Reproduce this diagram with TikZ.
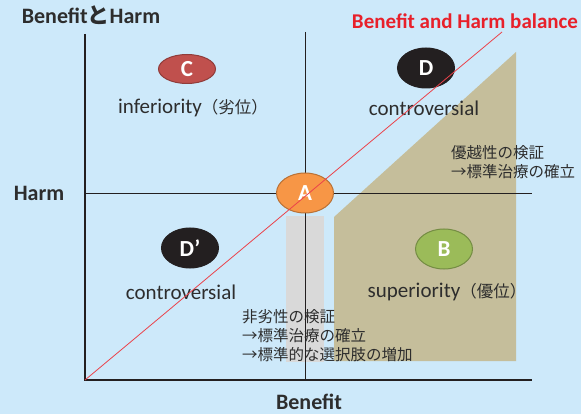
\documentclass[tikz,border=0pt]{standalone}
\usepackage{fontspec}
\setmainfont{Carlito}
\newfontfamily\jp{Noto Sans CJK JP}
\usetikzlibrary{shapes.geometric}

\definecolor{bgblue}{RGB}{205,233,250}
\definecolor{tan}{RGB}{197,190,155}
\definecolor{lightgrey}{RGB}{217,217,217}
\definecolor{axisdark}{RGB}{35,31,32}
\definecolor{textdark}{RGB}{45,45,45}
\definecolor{balred}{RGB}{232,32,42}
\definecolor{cred}{RGB}{192,80,77}
\definecolor{aorange}{RGB}{247,150,70}
\definecolor{bgreen}{RGB}{155,187,89}

\begin{document}
\begin{tikzpicture}[x=1pt, y=-1pt,
    zone/.style={ellipse, draw, line width=1pt, minimum width=57pt, minimum height=40pt,
      inner sep=0pt, text=white, font=\bfseries\fontsize{23}{23}\selectfont},
    zonetext/.style={text=textdark, font=\fontsize{21}{21}\selectfont},
    axistitle/.style={text=textdark, font=\bfseries\fontsize{22}{22}\selectfont},
    note/.style={anchor=west, align=left, inner sep=0pt, text=textdark,
      font=\jp\fontsize{15.5}{19}\selectfont}]
    \useasboundingbox (0,0) rectangle (581,414);
    \fill[bgblue] (0,0) rectangle (581,414);

    % shaded regions
    \fill[tan] (334,217) -- (516,52) -- (516,361) -- (334,361) -- cycle;
    \fill[lightgrey] (286,216) rectangle (324,362);

    % axes and cross lines
    \coordinate (origin) at (85,380);
    \coordinate (ytop) at (85,34);
    \coordinate (xend) at (532,380);
    \coordinate (vtop) at (305,32);
    \coordinate (vbot) at (305,380);
    \coordinate (hleft) at (85,194);
    \coordinate (hright) at (532,194);
    \coordinate (balend) at (502,32);

    \draw[axisdark, line width=1pt] (vtop) -- (vbot);
    \draw[axisdark, line width=1pt] (hleft) -- (hright);
    \draw[axisdark, line width=2.6pt] (ytop) -- (origin) -- (xend);

    % titles
    \node[axistitle] (title) at (91,15) {Benefit{\jp と}Harm};
    \node[axistitle, text=balred, font=\bfseries\fontsize{21}{21}\selectfont] (balance) at (465,21) {Benefit and Harm balance};
    \node[axistitle] (harm) at (39,193) {Harm};
    \node[axistitle] (benefit) at (309,402) {Benefit};

    % quadrants
    \node[zone, fill=cred, draw=cred!75!black, minimum height=29pt] (c) at (187,69) {C};
    \node[zone, fill=axisdark, draw=axisdark] (d) at (426,68) {D};
    \node[zone, fill=axisdark, draw=axisdark] (dd) at (190,248) {D’};
    \node[zone, fill=aorange, draw=aorange!75!black] (a) at (305,193) {A};
    \node[zone, fill=bgreen, draw=bgreen!75!black] (b) at (444,249) {B};

    \node[zonetext] (inferior) at (193,108) {inferiority{\jp\fontsize{16.5}{16.5}\selectfont（劣位）}};
    \node[zonetext] (contra) at (424,108) {controversial};
    \node[zonetext] (contrb) at (181,292) {controversial};
    \node[zonetext] (superior) at (447,292) {superiority{\jp\fontsize{16.5}{16.5}\selectfont（優位）}};

    \node[note] (supnote) at (451,162) {優越性の検証\\→標準治療の確立};
    \node[note] (noninf) at (242,336) {非劣性の検証\\→標準治療の確立\\→標準的な選択肢の増加};

    % balance line
    \draw[balred!85!white, line width=0.8pt] (origin) -- (balend);
\end{tikzpicture}
\end{document}
